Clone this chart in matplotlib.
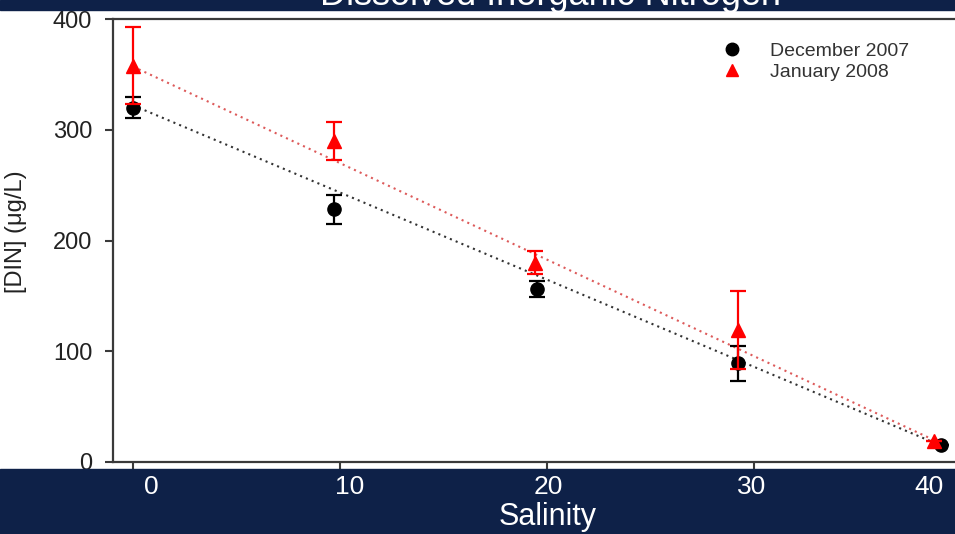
import matplotlib.pyplot as plt
from matplotlib.patches import Rectangle

plt.rcParams['font.family'] = ['Liberation Sans', 'DejaVu Sans']

# values: salinity vs DIN (ug/L), +/- error
dec_sal = [0, 9.7, 19.5, 29.2, 39.0]
dec_din = [320, 228, 156, 89, 15]
dec_err = [9.5, 13, 7, 16, 0]

jan_sal = [0, 9.7, 19.4, 29.2, 38.7]
jan_din = [358, 290, 180, 119, 19]
jan_err = [35, 17, 10.5, 35, 0]

# dotted trend lines (end points)
fit_sal = [0, 39]
dec_fit = [322, 15]
jan_fit = [357, 17]

xticks = [0, 10, 20, 30, 40]
xtick_labels = ['0', '10', '20', '30', '40']
yticks = [0, 100, 200, 300, 400]

navy = '#0e2148'
spine = '#3a3a3a'
W, H = 955, 534

fig = plt.figure(figsize=(W / 100, H / 100), dpi=100)
ax = fig.add_axes([113 / W, 1 - 462 / H, (982 - 113) / W, (462 - 19) / H])

# trend lines first so markers sit on top
ax.plot(fit_sal, dec_fit, color='#333333', ls=(0, (1, 2)), lw=1.5, zorder=1)
ax.plot(fit_sal, jan_fit, color='#dd5a5a', ls=(0, (1, 2)), lw=1.5, zorder=1)

ax.errorbar(dec_sal, dec_din, yerr=dec_err, fmt='o', color='black', ms=9.5,
            capsize=6, elinewidth=1.6, capthick=1.6, zorder=3)
ax.errorbar(jan_sal, jan_din, yerr=jan_err, fmt='^', color='#ff0000', ms=10,
            capsize=6, elinewidth=1.6, capthick=1.6, zorder=4)

# legend handles without the error bars
ax.plot([], [], 'o', color='black', ms=9, label='December 2007')
ax.plot([], [], '^', color='#ff0000', ms=9, label='January 2008')
leg = ax.legend(loc='upper left', bbox_to_anchor=(722 / W, 1 - 42 / H),
                bbox_transform=fig.transFigure, frameon=False, fontsize=14,
                handlelength=1, handletextpad=1.45, labelspacing=0.2,
                borderpad=0, borderaxespad=0)
for t in leg.get_texts():
    t.set_color('#333333')

ax.set_xlim(-0.97, 41)
ax.set_ylim(0, 400)
ax.set_xticks(xticks)
ax.set_yticks(yticks)
ax.tick_params(axis='x', labelbottom=False, length=5, width=1.5, color=spine)
ax.tick_params(axis='y', length=6, width=1.5, color=spine, pad=9,
               labelsize=17, labelcolor='#222222')
ax.spines['right'].set_visible(False)
for s in ['left', 'bottom', 'top']:
    ax.spines[s].set_color(spine)
    ax.spines[s].set_linewidth(1.6)

fig.text(16 / W, 1 - 232 / H, '[DIN] (\u03bcg/L)', rotation=90, ha='center',
         va='center', fontsize=17, color='#222222')

# navy slide bands over the figure
fig.patches.append(Rectangle((0, 0), 1, 1 - 469 / H, transform=fig.transFigure,
                             color=navy, zorder=5))
fig.patches.append(Rectangle((0, 1 - 10 / H), 1, 10 / H, transform=fig.transFigure,
                             color=navy, zorder=5))

fig.text(550 / W, 1 - 5 / H, 'Dissolved Inorganic Nitrogen', ha='center',
         va='baseline', fontsize=26, color='white', zorder=6)

label_px = [151, 350, 548, 752, 929]
for lab, px in zip(xtick_labels, label_px):
    fig.text(px / W, 1 - 487 / H, lab, ha='center', va='center', fontsize=19,
             color='white', zorder=6)
fig.text(548 / W, 1 - 517 / H, 'Salinity', ha='center', va='center',
         fontsize=22, color='white', zorder=6)

fig.savefig('out.png', dpi=100)
